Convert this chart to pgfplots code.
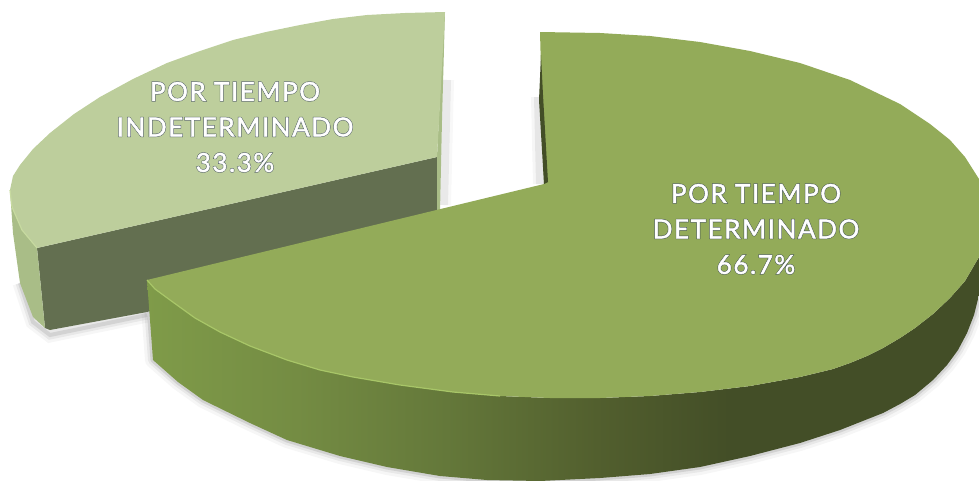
\documentclass[border=0pt]{standalone}
\usepackage{pgfplots}
\usepackage{fontspec}
\pgfplotsset{compat=1.18}
\setmainfont{Lato}
\definecolor{bigtop}{HTML}{93AB59}
\definecolor{lighttop}{HTML}{BDCE9C}
\definecolor{lightside}{HTML}{A9BD87}
\definecolor{darkwall}{HTML}{636F50}
\definecolor{HTMLa}{HTML}{7F9B49}
\definecolor{HTMLb}{HTML}{748C43}
\definecolor{HTMLc}{HTML}{64783A}
\definecolor{HTMLd}{HTML}{525F2E}
\definecolor{HTMLe}{HTML}{434E27}
\pgfdeclarehorizontalshading{sideg}{100bp}{color(0bp)=(HTMLa);color(25bp)=(HTMLa);color(34bp)=(HTMLb);color(43bp)=(HTMLc);color(52bp)=(HTMLd);color(60bp)=(HTMLe);color(100bp)=(HTMLe)}
\pgfplotstableread{
x y
147 280
153 360
178 382
203 400
250 423
287 440
340 456
387 467
440 476
487 480
540 481
600 478
650 474
700 467
750 456
800 443
840 430
883 413
900 404
915 395
933 380
947 365
958 350
967 333
974 315
979 295
}\bottomedge
\newcommand{\lab}[2]{%
\node[font=\fontsize{26}{35.5}\selectfont\addfontfeature{FakeBold=5.5,LetterSpace=6},align=center,text={rgb,255:red,50;green,62;blue,84},opacity=0.8] at (#1) {#2};
\node[font=\fontsize{26}{35.5}\selectfont\addfontfeature{FakeBold=1.8,LetterSpace=6},align=center,text=white] at (#1) {#2};}
\begin{document}
\begin{tikzpicture}
\begin{axis}[
  width=979pt,height=480pt,scale only axis,
  xmin=0,xmax=979,ymin=0,ymax=480,y dir=reverse,
  hide axis,clip=true]
% shadows
\addplot[draw=gray,line width=15pt,opacity=0.07] coordinates {(20,283)(33,322)(50,335)(147,315)};
\addplot[draw=gray,line width=9pt,opacity=0.12] coordinates {(20,283)(33,322)(50,335)(147,315)};
\addplot[draw=gray,line width=4pt,opacity=0.2] coordinates {(20,283)(33,322)(50,335)(147,315)};
\addplot[draw=gray,line width=14pt,opacity=0.06] coordinates {(447,80)(444,205)};
\addplot[draw=gray,line width=8pt,opacity=0.12] coordinates {(447,80)(444,205)};
\addplot[draw=gray,line width=14pt,opacity=0.07] coordinates {(538,97)(540,184)};
\addplot[draw=gray,line width=8pt,opacity=0.14] coordinates {(538,97)(540,184)};
\addplot[draw=gray,line width=16pt,opacity=0.07,line join=round] table[x=x,y=y] {\bottomedge};
\addplot[draw=gray,line width=10pt,opacity=0.12,line join=round] table[x=x,y=y] {\bottomedge};
\addplot[draw=gray,line width=5pt,opacity=0.22,line join=round] table[x=x,y=y] {\bottomedge};
% small slice
\addplot[draw=none,fill=darkwall] coordinates {(37,248)(437,157)(439,225)(147,312)(50,330)(45,328)} -- cycle;
\addplot[draw=none,fill=lightside] coordinates {(10,190)(13,207)(23,230)(37,248)(45,328)(33,317)(20,283)(13,233)} -- cycle;
\addplot[draw=none,fill=lightside] coordinates {(437,157)(444,12)(445,12)(442,120)(440,212)(437,212)} -- cycle;
\addplot[draw=none,fill=lighttop] coordinates {(445,12)(405,13)(367,15)(333,19)(300,25)(266,32)(233,40)(200,51)(167,63)(133,79)(100,97)(74,114)(50,133)(33,149)(20,165)(13,176)(10,190)(12,207)(22,230)(37,248)(437,157)} -- cycle;
\addplot[draw={rgb,255:red,199;green,218;blue,160},line width=1.2pt] coordinates {(10,190)(12,207)(22,230)(37,248)};
% big slice side
\addplot[draw=none,shading=sideg] coordinates {(147,280)(155,289)(170,300)(195,318)(220,332)(250,346)(287,360)(320,370)(353,377)(400,385)(453,392)(500,396)(550,398)(600,398)(650,396)(700,392)(750,386)(800,377)(833,369)(850,363)(867,356)(883,348)(900,338)(915,328)(933,314)(950,298)(965,281)(979,257)(979,295)(974,315)(967,333)(958,350)(947,365)(933,380)(915,395)(900,404)(883,413)(840,430)(800,443)(750,456)(700,467)(650,474)(600,478)(540,481)(487,480)(440,476)(387,467)(340,456)(287,440)(250,423)(203,400)(178,382)(153,360)} -- cycle;
% big slice top
\addplot[draw=none,fill=bigtop] coordinates {(540,32)(600,33)(650,36)(700,42)(750,51)(800,63)(850,80)(900,104)(930,124)(950,140)(965,157)(979,179)(979,257)(965,281)(950,298)(933,314)(915,328)(900,338)(883,348)(867,356)(850,363)(833,369)(800,377)(750,386)(700,392)(650,396)(600,398)(550,398)(500,396)(453,392)(400,385)(353,377)(320,370)(287,360)(250,346)(220,332)(195,318)(170,300)(155,289)(147,280)(544,184)} -- cycle;
\addplot[draw=none,fill=HTMLe] coordinates {(541,55)(543,95)(548,182)(544,184)(539,100)} -- cycle;
\addplot[draw={rgb,255:red,168;green,198;blue,104},line width=1.2pt] coordinates {(147,280)(155,289)(170,300)(195,318)(220,332)(250,346)(287,360)(320,370)(353,377)(400,385)(453,392)(500,396)};
% labels
\lab{axis cs:756,229}{POR TIEMPO\\DETERMINADO\\66.7\%}
\lab{axis cs:235,127}{POR TIEMPO\\INDETERMINADO\\33.3\%}
\end{axis}
\pgfresetboundingbox
\useasboundingbox (0,0) rectangle (979pt,480pt);
\end{tikzpicture}
\end{document}
